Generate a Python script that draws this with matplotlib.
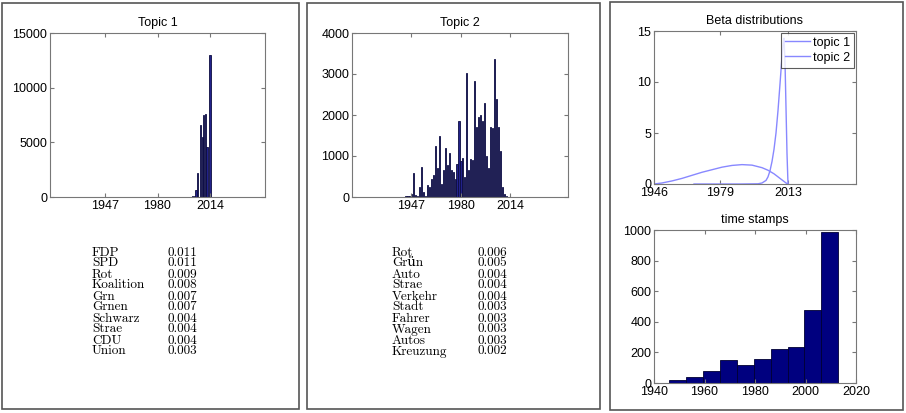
import numpy as np
import matplotlib.pyplot as plt
from matplotlib.patches import Rectangle

# topic 1 yearly counts
t1_years = [2000, 2001, 2002, 2003, 2004, 2005, 2006, 2007, 2008, 2009, 2010, 2011, 2012, 2013, 2014]
t1_counts = [20, 30, 40, 60, 120, 600, 2200, 0, 6550, 5490, 7500, 7590, 4540, 0, 13020]

# topic 2 counts (bins from 1944 to 2012)
t2_counts = [20, 30, 20, 70, 585, 60, 20, 250, 730, 130, 30, 300, 250, 450, 530,
             1240, 700, 1500, 320, 660, 1200, 780, 1070, 650, 620, 450, 800,
             1850, 880, 940, 500, 3020, 650, 920, 900, 2830, 1700, 1960, 2000,
             1850, 2300, 1000, 700, 1700, 1680, 3370, 2380, 1700, 1120, 250, 70, 30, 10]
t2_start, t2_end = 1943.5, 2012.5

# beta distributions
beta1_x = [1966, 1990, 1998, 2000, 2002, 2003, 2004, 2005, 2006, 2007, 2008, 2009, 2010, 2010.6, 2011, 2011.5, 2012, 2012.5, 2013]
beta1_y = [0, 0, 0.02, 0.1, 0.35, 0.7, 1.3, 2.2, 3.4, 5.0, 7.2, 9.8, 12.5, 13.8, 14.3, 12.0, 7.5, 3.0, 0]
beta2_x = [1946, 1950, 1955, 1960, 1965, 1970, 1975, 1980, 1985, 1990, 1995, 2000, 2003, 2006, 2009, 2011, 2012, 2013]
beta2_y = [0, 0.1, 0.3, 0.55, 0.85, 1.15, 1.4, 1.65, 1.82, 1.9, 1.85, 1.6, 1.35, 1.0, 0.55, 0.25, 0.1, 0]

# time stamp histogram
ts_edges = [1946.0, 1952.7, 1959.4, 1966.1, 1972.8, 1979.5, 1986.2, 1992.9, 1999.6, 2006.3, 2013.0]
ts_counts = [22, 39, 79, 153, 120, 155, 225, 236, 476, 985]

# top words
t1_words = ["FDP", "SPD", "Rot", "Koalition", "Grn", "Grnen", "Schwarz", "Strae", "CDU", "Union"]
t1_probs = ["0.011", "0.011", "0.009", "0.008", "0.007", "0.007", "0.004", "0.004", "0.004", "0.003"]
t2_words = ["Rot", "Grün", "Auto", "Strae", "Verkehr", "Stadt", "Fahrer", "Wagen", "Autos", "Kreuzung"]
t2_probs = ["0.006", "0.005", "0.004", "0.004", "0.004", "0.003", "0.003", "0.003", "0.003", "0.002"]

plt.rcParams['font.family'] = ['Liberation Sans', 'DejaVu Sans']
W, H = 906, 413
fig = plt.figure(figsize=(W / 100, H / 100), dpi=100)

bar_fc = '#22228a'
bar_ec = '#0c0c40'
line_c = '#8888ff'


def fx(px):
    return px / W


def fy(py):
    return 1 - py / H


def make_ax(l, r, t, b):
    ax = fig.add_axes([fx(l), fy(b), fx(r) - fx(l), fy(t) - fy(b)])
    ax.tick_params(direction='in', top=True, right=True, length=3, labelsize=9,
                   color='#777777', pad=2)
    for s in ax.spines.values():
        s.set_color('#777777')
        s.set_linewidth(0.8)
    return ax


# panel frames
for l, r, t, b in [(2, 299, 3, 409), (307, 600, 3, 409), (610, 903, 2, 410)]:
    fig.add_artist(Rectangle((fx(l), fy(b)), fx(r) - fx(l), fy(t) - fy(b),
                             transform=fig.transFigure, fill=False,
                             edgecolor='#555555', linewidth=1.2))

# topic 1
ax1 = make_ax(50, 265, 33, 197)
ax1.bar(t1_years, t1_counts, width=0.8, color=bar_fc, edgecolor=bar_ec, linewidth=0.6)
ax1.set_xlim(1912, 2049)
ax1.set_ylim(0, 15000)
ax1.set_xticks([1947, 1980.5, 2014])
ax1.set_xticklabels(["1947", "1980", "2014"])
ax1.set_yticks([0, 5000, 10000, 15000])
ax1.set_title("Topic 1", fontsize=9, pad=5)

# topic 2
ax2 = make_ax(352, 568, 33, 197)
t2_x = np.linspace(t2_start, t2_end, len(t2_counts))
ax2.bar(t2_x, t2_counts, width=0.75, color=bar_fc, edgecolor=bar_ec, linewidth=0.6)
ax2.set_xlim(1907, 2053)
ax2.set_ylim(0, 4000)
ax2.set_xticks([1947, 1980.5, 2014])
ax2.set_xticklabels(["1947", "1980", "2014"])
ax2.set_yticks([0, 1000, 2000, 3000, 4000])
ax2.set_title("Topic 2", fontsize=9, pad=5)

# beta distributions
ax3 = make_ax(654, 856, 31, 184)
ax3.plot(beta1_x, beta1_y, color=line_c, lw=1.0, label="topic 1")
ax3.plot(beta2_x, beta2_y, color=line_c, lw=1.0, label="topic 2")
ax3.set_xlim(1946, 2047)
ax3.set_ylim(0, 15)
ax3.set_xticks([1946, 1979, 2013])
ax3.set_yticks([0, 5, 10, 15])
ax3.set_title("Beta distributions", fontsize=9, pad=5)
leg = ax3.legend(loc='upper right', fontsize=9, frameon=True, fancybox=False,
                 borderpad=0.3, handlelength=2.0, handletextpad=0.3,
                 labelspacing=0.25, borderaxespad=0.15)
leg.get_frame().set_edgecolor('#333333')
leg.get_frame().set_linewidth(0.8)

# time stamps histogram
ax4 = make_ax(654, 856, 230, 383)
ax4.hist(ts_edges[:-1], bins=ts_edges, weights=ts_counts, color='#00007f',
         edgecolor='#000033', linewidth=0.6)
ax4.set_xlim(1940, 2020)
ax4.set_ylim(0, 1000)
ax4.set_xticks([1940, 1960, 1980, 2000, 2020])
ax4.set_yticks([0, 200, 400, 600, 800, 1000])
ax4.set_title("time stamps", fontsize=9, pad=5)

# word tables
serif = ['cmr10', 'DejaVu Serif']
for words, probs, xw, xp in [(t1_words, t1_probs, 92, 168), (t2_words, t2_probs, 392, 477)]:
    for i, (w, p) in enumerate(zip(words, probs)):
        y = 255.5 + i * 11
        fig.text(fx(xw), fy(y), w, family=serif, fontsize=9.5, va='baseline', ha='left')
        fig.text(fx(xp), fy(y), p, family=serif, fontsize=9.5, va='baseline', ha='left')

fig.savefig("out.png", dpi=100)
